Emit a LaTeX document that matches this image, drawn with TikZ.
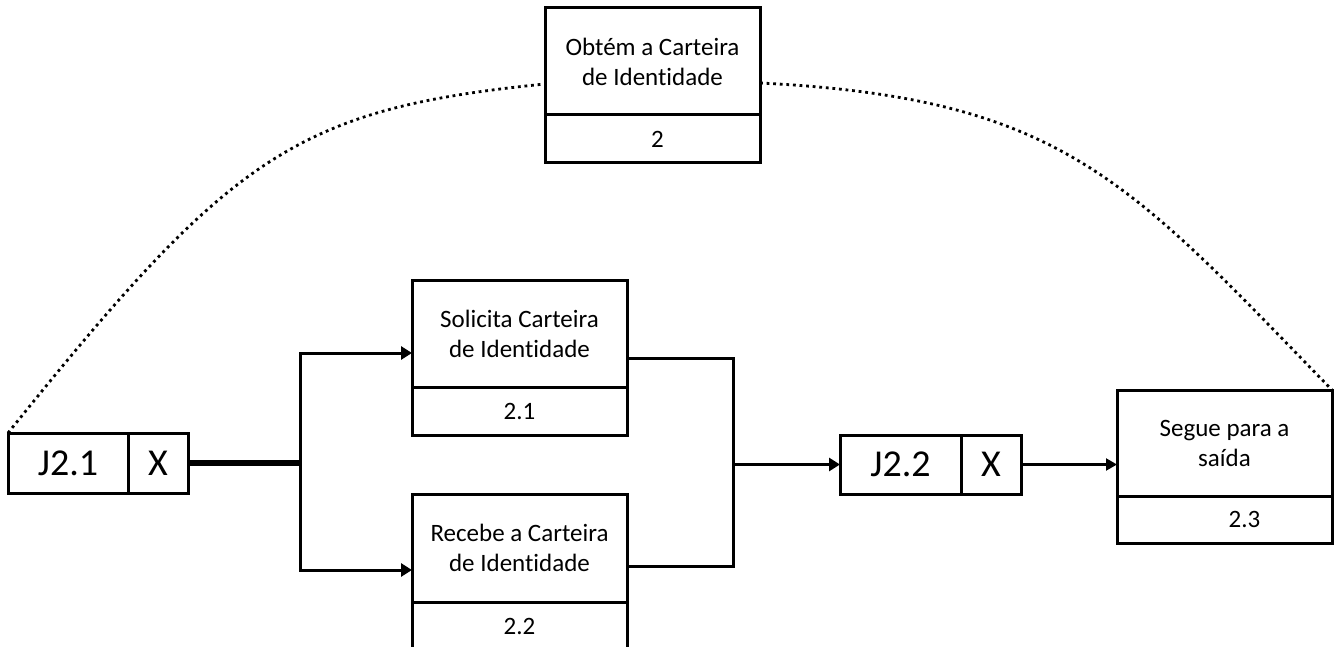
\documentclass[tikz,border=0pt]{standalone}
\usepackage{fontspec}
\setmainfont{Carlito}[Ligatures=NoCommon]
\usetikzlibrary{arrows.meta}
\begin{document}
\begin{tikzpicture}[x=1pt,y=-1pt,
  every node/.style={outer sep=0pt, inner sep=0pt},
  upper/.style={draw, line width=3pt, minimum width=215pt, align=center,
                font=\fontsize{25}{30}\selectfont},
  lower/.style={upper, anchor=north},
  jbox/.style={draw, line width=3pt, minimum height=60pt,
               font=\fontsize{38}{40}\selectfont},
  conn/.style={line width=3pt},
  arr/.style={conn, -{Triangle[length=11pt,width=13pt]}},
  arrthin/.style={line width=2.2pt, -{Triangle[length=11pt,width=12pt]}},
  thickconn/.style={line width=6pt},
  dots/.style={line width=2.8pt, dash pattern=on 2.8pt off 3.8pt}]
\useasboundingbox (0,0) rectangle (1341,647);

% top activity
\node[upper, minimum height=107pt] (t2) at (652.5,61.5) {Obtém a Carteira\\de Identidade};
\node[lower, minimum height=48pt] (t2n) at (t2.south) {\hspace*{10pt}2};

% junction J2.1
\node[jbox, minimum width=120pt] (j1) at (68,463) {J2.1};
\node[jbox, minimum width=60pt, anchor=west] (j1x) at (j1.east) {X};

% sub-activities
\node[upper, minimum height=107pt] (s21) at (519.5,333.5) {Solicita Carteira\\de Identidade};
\node[lower, minimum height=48pt] (s21n) at (s21.south) {2.1};
\node[upper, minimum height=108pt] (s22) at (519.5,548) {Recebe a Carteira\\de Identidade};
\node[lower, minimum height=48pt] (s22n) at (s22.south) {2.2};

% junction J2.2
\node[jbox, minimum width=121pt, minimum height=59pt] (j2) at (900.5,464.5) {J2.2};
\node[jbox, minimum width=60pt, minimum height=59pt, anchor=west] (j2x) at (j2.east) {X};

% final activity
\node[upper, minimum height=106pt] (s23) at (1224.5,443) {Segue para a\\saída};
\node[lower, minimum height=47pt] (s23n) at (s23.south) {\hspace*{40pt}2.3};

% fan-out and fan-in points
\coordinate (sp) at (300,464);
\coordinate (mg) at (733,464.5);

\draw[thickconn] (j1x.east) -- (j1x.east -| sp);
\draw[arr] (sp) |- ([yshift=-19.5pt]s21.west);
\draw[arr] (sp) |- ([yshift=-22pt]s22.west);
\draw[conn] ([yshift=-24.5pt]s21.east) -| (mg);
\draw[conn] ([yshift=-18pt]s22.east) -| (mg);
\draw[arr] (mg) -- (j2.west);
\draw[arrthin] (j2x.east) -- (j2x.east -| s23.west);

% decomposition arcs
\draw[dots] (j1.north west) .. controls (230,157) and (294,109) .. ([yshift=-22.5pt]t2.west);
\draw[dots] ([yshift=-21.5pt]t2.east) .. controls (1062,98) and (1128,180) .. (s23.north east);
\end{tikzpicture}
\end{document}
